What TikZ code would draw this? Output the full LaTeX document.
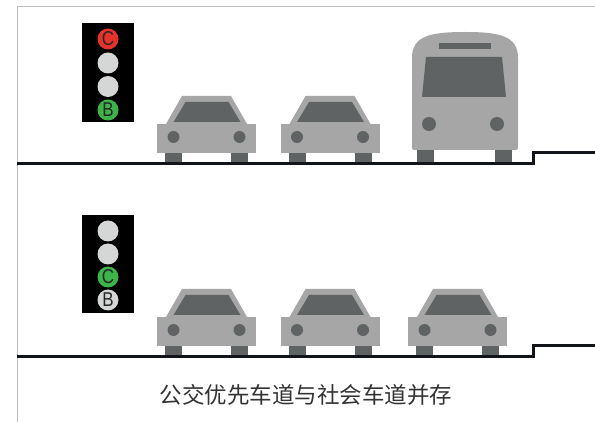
\documentclass[tikz,border=0pt]{standalone}
\usepackage{fontspec}
\setmainfont{Liberation Sans}
\newfontfamily\cjkfont{Noto Sans CJK SC}
\newfontfamily\lampfont[FakeStretch=0.85]{Liberation Sans}
\definecolor{carbody}{HTML}{A6A6A6}
\definecolor{cardark}{HTML}{5F6363}
\definecolor{roadline}{HTML}{111418}
\definecolor{framegray}{HTML}{BDBDBD}
\definecolor{lampred}{HTML}{E5322A}
\definecolor{lampgreen}{HTML}{3DB44A}
\definecolor{lampoff}{HTML}{D5D7D7}
\definecolor{lampink}{HTML}{262626}
\definecolor{captiontext}{HTML}{333333}
\tikzset{
  lampbox/.style={fill=black, draw=none},
  lamp/.style={circle, draw=none, minimum size=21pt, inner sep=0pt,
    text=lampink, font=\lampfont\fontsize{20}{20}\selectfont},
  road/.style={draw=roadline, line width=3pt, line join=miter},
  frameline/.style={draw=framegray, line width=1pt},
  car/.pic={
    % wheels
    \fill[cardark] (-41.5,-11) rectangle (-24.5,0);
    \fill[cardark] (24.5,-11) rectangle (41.5,0);
    % roof and body
    \fill[carbody] (-40.5,-40) -- (-24.5,-68) -- (24.5,-68) -- (40.5,-40) -- cycle;
    \fill[carbody] (-49.5,-40) rectangle (49.5,-11);
    % windscreen
    \fill[cardark] (-33,-42) -- (-21,-62) -- (22,-62) -- (34,-42) -- cycle;
    % headlights
    \fill[cardark] (-33,-27) circle (6);
    \fill[cardark] (33,-27) circle (6);
  }
}
\begin{document}
\begin{tikzpicture}[x=1pt,y=-1pt]
\useasboundingbox (0,0) rectangle (595,422);
\fill[white] (0,0) rectangle (595,422);

% outer frame
\draw[frameline] (17,422) -- (17,7) -- (595,7);

% ---------- upper lane: bus priority ----------
\fill[lampbox] (82,23) rectangle (134,122);
\node[lamp, fill=lampred]   (uC)  at (108,39)  {C};
\node[lamp, fill=lampoff]   (uO1) at (108,63)  {};
\node[lamp, fill=lampoff]   (uO2) at (108,86.5) {};
\node[lamp, fill=lampgreen] (uB)  at (108,110) {B};

\pic at (206.5,164) {car};
\pic at (330,164) {car};

% bus
\fill[cardark] (417,140) rectangle (434,164);
\fill[cardark] (495,140) rectangle (512,164);
\fill[carbody] (412,145) -- (412,58)
  .. controls (412,36) and (430,32) .. (465,32)
  .. controls (500,32) and (518,36) .. (518,58)
  -- (518,145) .. controls (518,150) .. (513,150)
  -- (417,150) .. controls (412,150) .. (412,145) -- cycle;
\fill[cardark] (439,43) rectangle (491,49);
\fill[cardark] (422,97) -- (426,57) -- (502,57) -- (506,97) -- cycle;
\fill[cardark] (429,124) circle (7);
\fill[cardark] (497,124) circle (7);

\draw[road] (17,164) -- (533,164) -- (533,153) -- (595,153);

% ---------- lower lane: general traffic ----------
\fill[lampbox] (82,215) rectangle (134,313);
\node[lamp, fill=lampoff]   (lO1) at (108,231) {};
\node[lamp, fill=lampoff]   (lO2) at (108,254) {};
\node[lamp, fill=lampgreen] (lC)  at (108,277) {C};
\node[lamp, fill=lampoff]   (lB)  at (108,300) {B};

\pic at (206.5,357) {car};
\pic at (330,357) {car};
\pic at (457.5,357) {car};

\draw[road] (17,357) -- (533,357) -- (533,345.5) -- (595,345.5);

% caption
\node[text=captiontext, font=\cjkfont\fontsize{22.5}{24}\selectfont]
  (caption) at (306,395) {公交优先车道与社会车道并存};
\end{tikzpicture}
\end{document}
